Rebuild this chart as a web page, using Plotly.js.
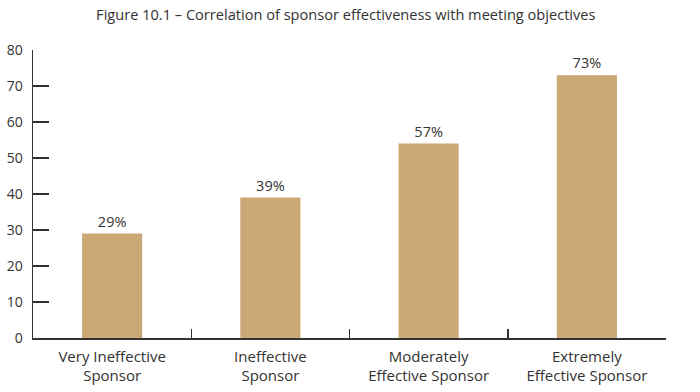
<!DOCTYPE html>
<html>
<head>
<meta charset="utf-8">
<script src="https://cdn.plot.ly/plotly-3.0.1.min.js"></script>
<style>html,body{margin:0;padding:0;background:#fff;}#chart{width:700px;height:392px;}</style>
</head>
<body>
<div id="chart"></div>
<script>
var categories = ["Very Ineffective<br>Sponsor", "Ineffective<br>Sponsor", "Moderately<br>Effective Sponsor", "Extremely<br>Effective Sponsor"];
var barValues = [29, 39, 54, 73];
var valueLabels = ["29%", "39%", "57%", "73%"];
var yTicks = [0, 10, 20, 30, 40, 50, 60, 70, 80];

var trace = {
  type: "bar",
  x: categories,
  y: barValues,
  text: valueLabels,
  texttemplate: "%{text}",
  textposition: "outside",
  cliponaxis: false,
  textfont: {family: "Open Sans", size: 14.5, color: "#333333"},
  marker: {color: "#CBA876", line: {width: 0}},
  hoverinfo: "none"
};

var layout = {
  width: 700,
  height: 392,
  margin: {l: 33, r: 34, t: 50, b: 54},
  paper_bgcolor: "#ffffff",
  plot_bgcolor: "#ffffff",
  font: {family: "Open Sans", size: 14, color: "#333333"},
  title: {text: "Figure 10.1 \u2013 Correlation of sponsor effectiveness with meeting objectives",
          x: 0.494, xanchor: "center", y: 0.963, yanchor: "middle",
          font: {family: "Open Sans", size: 14.6, color: "#333333"}},
  bargap: 0.62,
  showlegend: false,
  xaxis: {
    type: "category",
    showline: true, linecolor: "#333333", linewidth: 1.5,
    ticks: "inside", tickson: "boundaries", ticklen: 9, tickcolor: "#333333", tickwidth: 1.5,
    showgrid: false, zeroline: false,
    ticklabelstandoff: 4,
    tickfont: {family: "Open Sans", size: 15, color: "#333333"}
  },
  yaxis: {
    range: [0, 80],
    tickvals: yTicks,
    showline: true, linecolor: "#333333", linewidth: 1.5,
    ticks: "inside", ticklen: 16, tickcolor: "#333333", tickwidth: 1.5,
    showgrid: false, zeroline: false,
    ticklabelstandoff: 6,
    tickfont: {family: "Open Sans", size: 14, color: "#333333"}
  }
};

Plotly.newPlot("chart", [trace], layout, {staticPlot: true, displayModeBar: false});
</script>
</body>
</html>
